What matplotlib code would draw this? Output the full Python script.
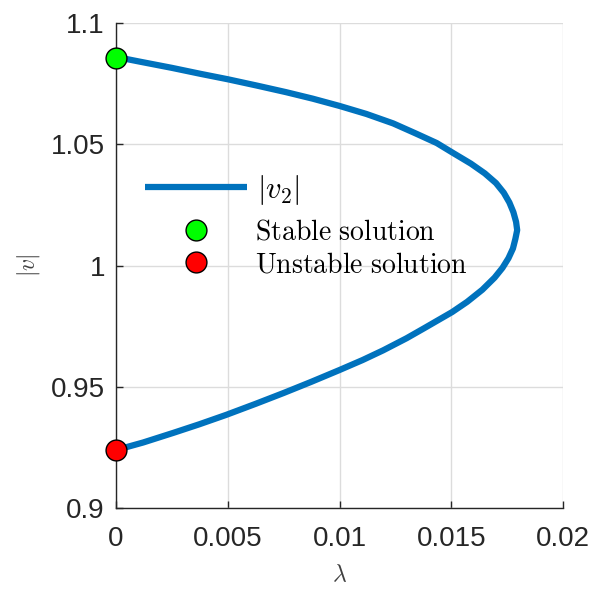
import matplotlib
matplotlib.use("Agg")
import matplotlib.pyplot as plt
from matplotlib.lines import Line2D

# Data (voltage magnitude vs loading parameter)
v_vals = [1.0860, 1.0840, 1.0815, 1.0790, 1.0768, 1.0742, 1.0715, 1.0688,
          1.0658, 1.0625, 1.0586, 1.0545, 1.0505, 1.0463, 1.0420, 1.0380,
          1.0340, 1.0300, 1.0260, 1.0220, 1.0180, 1.0146,
          1.0110, 1.0070, 1.0030, 0.9990, 0.9950, 0.9900, 0.9850, 0.9808,
          0.9742, 0.9700, 0.9650, 0.9610, 0.9569, 0.9520, 0.9475, 0.9430,
          0.9384, 0.9345, 0.9310, 0.9270, 0.9239]
lam_vals = [0.0, 0.0011, 0.0025, 0.0038, 0.0050, 0.0063, 0.0076, 0.0088,
            0.0100, 0.0112, 0.0124, 0.0134, 0.01435, 0.0151, 0.01588, 0.0165,
            0.01700, 0.01735, 0.0176, 0.01778, 0.01790, 0.01795,
            0.01787, 0.01776, 0.01756, 0.01729, 0.01694, 0.01639, 0.01571, 0.01504,
            0.0138, 0.0130, 0.01195, 0.01103, 0.0100, 0.00873, 0.00752, 0.00626,
            0.00493, 0.00372, 0.00257, 0.00121, 0.0]
stable_pt = (0.0, 1.0855)
unstable_pt = (0.0, 0.9240)
xticks = [0, 0.005, 0.01, 0.015, 0.02]
xtick_labels = ["0", "0.005", "0.01", "0.015", "0.02"]
yticks = [0.9, 0.95, 1.0, 1.05, 1.1]
ytick_labels = ["0.9", "0.95", "1", "1.05", "1.1"]

plt.rcParams['mathtext.fontset'] = 'cm'

fig = plt.figure(figsize=(5.98, 5.90), dpi=100)
ax = fig.add_axes([116/598, 82/590, 447/598, 485/590])

line, = ax.plot(lam_vals, v_vals, color='#0072BD', lw=4.5, zorder=3,
                solid_capstyle='butt', solid_joinstyle='round')
ax.plot([stable_pt[0]], [stable_pt[1]], 'o', ms=15, mfc='#00FF00', mec='black',
        mew=1.0, ls='none', zorder=5, clip_on=False)
ax.plot([unstable_pt[0]], [unstable_pt[1]], 'o', ms=15, mfc='#FF0000', mec='black',
        mew=1.0, ls='none', zorder=5, clip_on=False)

ax.set_xlim(0, 0.02)
ax.set_ylim(0.9, 1.1)
ax.set_xticks(xticks)
ax.set_xticklabels(xtick_labels)
ax.set_yticks(yticks)
ax.set_yticklabels(ytick_labels)
for lab in ax.get_xticklabels() + ax.get_yticklabels():
    lab.set_fontfamily('Liberation Sans')
    lab.set_fontsize(20)
    lab.set_color('#262626')

ax.tick_params(direction='in', length=5, width=1, color='#262626')
ax.tick_params(axis='x', pad=13)
ax.tick_params(axis='y', pad=8)
ax.spines['top'].set_visible(False)
ax.spines['right'].set_visible(False)
for s in ('left', 'bottom'):
    ax.spines[s].set_color('#262626')
    ax.spines[s].set_linewidth(1)
ax.grid(True, color='#DCDCDC', lw=1)
ax.set_axisbelow(True)

ax.set_xlabel(r'$\lambda$', fontsize=17, color='#404040', labelpad=7)
ax.set_ylabel(r'$|v|$', fontsize=17, color='#404040', labelpad=6)

# Legend: line entry
h_line = Line2D([], [], color='#0072BD', lw=4.5, solid_capstyle='butt')
leg1 = ax.legend([h_line], [r'$|v_2|$'], loc='center left',
                 bbox_to_anchor=(29/447, (508-190)/485), frameon=False,
                 fontsize=22, handlelength=3.33, handletextpad=0.33,
                 borderpad=0, borderaxespad=0)
ax.add_artist(leg1)

# Legend: marker entries
h_st = Line2D([], [], marker='o', ms=15, mfc='#00FF00', mec='black', mew=1.0, ls='none')
h_un = Line2D([], [], marker='o', ms=15, mfc='#FF0000', mec='black', mew=1.0, ls='none')
leg2 = ax.legend([h_st, h_un],
                 [r'$\mathrm{Stable\ solution}$', r'$\mathrm{Unstable\ solution}$'],
                 loc='center left', bbox_to_anchor=(29/447, (508-248)/485),
                 frameon=False, fontsize=20, handlelength=3.67, handletextpad=0.29,
                 borderpad=0, borderaxespad=0, labelspacing=0.15)

fig.savefig('out.png', dpi=100)
